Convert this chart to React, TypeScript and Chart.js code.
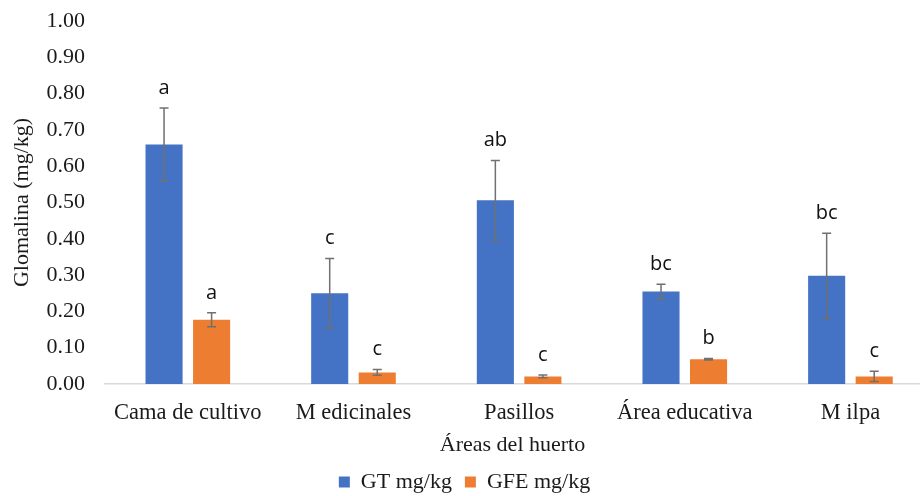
import React, { useEffect, useRef } from 'react';
import { Chart, registerables } from 'chart.js';

Chart.register(...registerables);

const categories = ['Cama de cultivo', 'M edicinales', 'Pasillos', 'Área educativa', 'M ilpa'];
const gtValues = [0.66, 0.25, 0.506, 0.255, 0.298];
const gtErrors = [0.1, 0.096, 0.11, 0.02, 0.117];
const gtLetters = ['a', 'c', 'ab', 'bc', 'bc'];
const gfeValues = [0.177, 0.032, 0.021, 0.068, 0.021];
const gfeErrors = [0.019, 0.008, 0.004, 0.002, 0.014];
const gfeLetters = ['a', 'c', 'c', 'b', 'c'];
const seriesNames = ['GT mg/kg', 'GFE mg/kg'];
const yMin = 0;
const yMax = 1;
const yStep = 0.1;

const SERIF = "'Liberation Serif', 'Times New Roman', serif";

const errorBarPlugin = {
  id: 'errorBars',
  afterDatasetsDraw(chart: any) {
    const ctx = chart.ctx;
    const yScale = chart.scales.y;
    chart.data.datasets.forEach((ds: any, di: number) => {
      const meta = chart.getDatasetMeta(di);
      meta.data.forEach((bar: any, i: number) => {
        const v = ds.data[i].y;
        const e = ds.errors[i];
        const top = yScale.getPixelForValue(v + e);
        const bot = yScale.getPixelForValue(Math.max(0, v - e));
        const x = bar.x;
        ctx.save();
        ctx.strokeStyle = '#707070';
        ctx.lineWidth = 1.5;
        ctx.beginPath();
        ctx.moveTo(x, top);
        ctx.lineTo(x, bot);
        ctx.moveTo(x - 4.5, top);
        ctx.lineTo(x + 4.5, top);
        ctx.moveTo(x - 4.5, bot);
        ctx.lineTo(x + 4.5, bot);
        ctx.stroke();
        ctx.fillStyle = '#111';
        ctx.font = "20px 'Open Sans', sans-serif";
        ctx.textAlign = 'center';
        ctx.textBaseline = 'middle';
        ctx.fillText(ds.letters[i], x, top - 20);
        ctx.restore();
      });
    });
  },
};

export default function App() {
  const canvasRef = useRef<HTMLCanvasElement | null>(null);

  useEffect(() => {
    if (!canvasRef.current) return;
    const chart = new Chart(canvasRef.current, {
      type: 'bar',
      data: {
        datasets: [
          {
            label: seriesNames[0],
            data: gtValues.map((v, i) => ({ x: i, y: v })),
            backgroundColor: '#4472C4',
            errors: gtErrors,
            letters: gtLetters,
          } as any,
          {
            label: seriesNames[1],
            data: gfeValues.map((v, i) => ({ x: i, y: v })),
            backgroundColor: '#ED7D31',
            errors: gfeErrors,
            letters: gfeLetters,
          } as any,
        ],
      },
      options: {
        animation: false,
        responsive: true,
        maintainAspectRatio: false,
        categoryPercentage: 0.574,
        barPercentage: 0.78,
        layout: { padding: { left: 9, right: 0, top: 21, bottom: -7 } },
        font: { family: SERIF },
        plugins: {
          tooltip: { enabled: false },
          legend: {
            position: 'bottom',
            labels: {
              boxWidth: 11,
              boxHeight: 11,
              color: '#1a1a1a',
              padding: 13,
              font: { family: SERIF, size: 22 },
            },
          },
        },
        scales: {
          x: {
            type: 'linear',
            min: -0.5,
            max: 4.42,
            offset: false,
            grid: { display: false, drawTicks: false },
            border: { display: true, color: '#d9d9d9', width: 1.5 },
            afterBuildTicks: (axis: any) => {
              axis.ticks = categories.map((_, i) => ({ value: i }));
            },
            afterFit: (axis: any) => {
              axis.height = 74;
              axis.paddingLeft = 0;
              axis.paddingRight = 0;
            },
            ticks: {
              autoSkip: false,
              maxRotation: 0,
              padding: 16,
              color: '#1a1a1a',
              font: { family: SERIF, size: 22.5 },
              callback: (value: any) => categories[value as number] ?? '',
            },
            title: {
              display: true,
              text: 'Áreas del huerto',
              color: '#1a1a1a',
              font: { family: SERIF, size: 22 },
              padding: { top: 0, bottom: 0 },
            },
          },
          y: {
            min: yMin,
            max: yMax,
            grid: { display: false, drawTicks: false },
            border: { display: false },
            afterFit: (axis: any) => {
              axis.width = 96;
              axis.paddingTop = 0;
              axis.paddingBottom = 0;
            },
            ticks: {
              stepSize: yStep,
              padding: 20,
              color: '#1a1a1a',
              font: { family: SERIF, size: 22 },
              callback: (value: any) => Number(value).toFixed(2),
            },
            title: {
              display: true,
              text: 'Glomalina (mg/kg)',
              color: '#1a1a1a',
              font: { family: SERIF, size: 22 },
              padding: { top: 0, bottom: 0 },
            },
          },
        },
      } as any,
      plugins: [errorBarPlugin],
    });
    return () => chart.destroy();
  }, []);

  return (
    <div style={{ position: 'absolute', left: 0, top: 0, width: 920, height: 496, background: '#fff' }}>
      <canvas ref={canvasRef} />
    </div>
  );
}
